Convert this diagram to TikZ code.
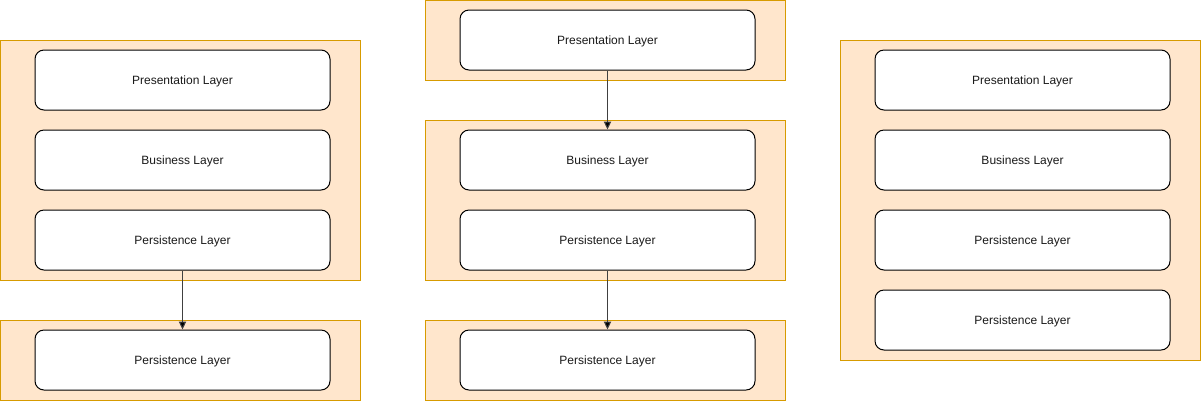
\documentclass[tikz,border=0pt]{standalone}
\usepackage{fontspec}
\setmainfont{Liberation Sans}
\usetikzlibrary{arrows.meta}
\definecolor{grpfill}{HTML}{FFE6CC}
\definecolor{grpline}{HTML}{D79B00}
\definecolor{txt}{HTML}{1A1A1A}
\tikzset{
  grp/.style={draw=grpline, fill=grpfill, line width=0.75pt, minimum width=270pt, inner sep=0pt, outer sep=0pt},
  layer/.style={draw=black, fill=white, rounded corners=6.75pt, line width=0.75pt, minimum width=221.25pt, minimum height=45pt, inner sep=0pt, text depth=0.4pt, font=\fontsize{9}{10}\selectfont, text=txt},
  conn/.style={draw=black!75, line width=0.75pt, -{Triangle[length=6pt,width=5.5pt,fill=black]}}
}
\begin{document}
\begin{tikzpicture}[x=0.75pt,y=-0.75pt]
\useasboundingbox (0,0) rectangle (1201,401);
% left column
\node[grp, minimum height=180pt] (g1) at (180,160) {};
\node[layer] (l1a) at (182.5,80) {Presentation Layer};
\node[layer] (l1b) at (182.5,160) {Business Layer};
\node[layer] (l1c) at (182.5,240) {Persistence Layer};
\node[grp, minimum height=60pt] (g2) at (180,360) {};
\node[layer] (l1d) at (182.5,360) {Persistence Layer};
% middle column
\node[grp, minimum height=60pt] (g3) at (605,40) {};
\node[layer] (l2a) at (607.5,40) {Presentation Layer};
\node[grp, minimum height=120pt] (g4) at (605,200) {};
\node[layer] (l2b) at (607.5,160) {Business Layer};
\node[layer] (l2c) at (607.5,240) {Persistence Layer};
\node[grp, minimum height=60pt] (g5) at (605,360) {};
\node[layer] (l2d) at (607.5,360) {Persistence Layer};
% right column
\node[grp, minimum height=240pt] (g6) at (1020,200) {};
\node[layer] (l3a) at (1022.5,80) {Presentation Layer};
\node[layer] (l3b) at (1022.5,160) {Business Layer};
\node[layer] (l3c) at (1022.5,240) {Persistence Layer};
\node[layer] (l3d) at (1022.5,320) {Persistence Layer};
% connectors
\draw[conn] (l1c.south) -- (l1d.north);
\draw[conn] (l2a.south) -- (l2b.north);
\draw[conn] (l2c.south) -- (l2d.north);
\end{tikzpicture}
\end{document}
